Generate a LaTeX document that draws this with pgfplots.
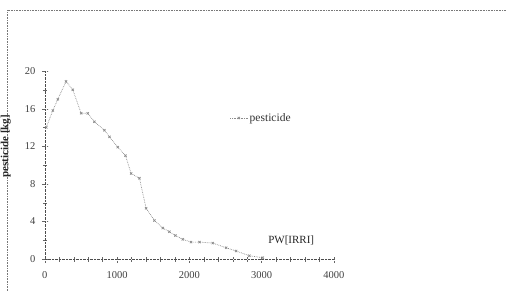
\documentclass[border=0pt]{standalone}
\usepackage{pgfplots}
\pgfplotsset{compat=1.18}
\usepackage{fontspec}
\setmainfont{Liberation Serif}
\definecolor{ln}{RGB}{140,140,140}
\definecolor{fr}{RGB}{120,120,120}
\begin{document}
\begin{tikzpicture}[x=1pt,y=1pt]
\useasboundingbox (0,0) rectangle (506,291);
\draw[fr, densely dotted, line width=0.6pt] (7,0) -- (7,281) -- (506,281);
\begin{axis}[
  at={(62,34)}, anchor=origin,
  scale only axis, width=289pt, height=188pt,
  xmin=0, xmax=4000, ymin=0, ymax=20,
  axis x line=bottom, axis y line=left,
  axis line style={densely dotted, black!70, -},
  xtick={0,1000,2000,3000,4000}, minor x tick num=4,
  ytick={0,4,8,12,16,20}, minor y tick num=1,
  tick align=center, tick style={black!60, densely dotted},
  major tick length=6pt, minor tick length=4pt,
  ticklabel style={font=\fontsize{10.5}{12}\selectfont, text=black!75},
  xticklabel style={yshift=-6pt},
  yticklabel style={xshift=-3pt},
  /pgf/number format/assume math mode=true,
  /pgf/number format/1000 sep={},
  ylabel={pesticide [kg]}, ylabel style={font=\fontsize{11}{12}\selectfont\bfseries, text=black!85, at={(axis description cs:0,0.6)}, anchor=center, yshift=39pt},
  legend style={at={(axis cs:2560,15.0)}, anchor=west, draw=none, fill=none, font=\fontsize{11.5}{13}\selectfont, text=black!80, inner sep=0pt},
  legend cell align=left,
  clip=false,
]
\addplot[ln, densely dotted, line width=0.7pt, mark=x, mark size=1.6pt, mark options={solid}] coordinates {
(20,14.0) (111,15.8) (180,17.0) (295,18.9) (388,18.0) (503,15.5) (595,15.5)
(687,14.6) (826,13.7) (895,13.0) (1010,11.9) (1117,11.0) (1195,9.1) (1310,8.6)
(1402,5.4) (1518,4.1) (1633,3.3) (1725,2.9) (1808,2.5) (1910,2.1) (2025,1.8)
(2140,1.8) (2325,1.7) (2510,1.2) (2648,0.85) (2833,0.35) (3017,0.14)
};
\addlegendentry{pesticide}
\node[font=\fontsize{11}{12}\selectfont, text=black!85] at (axis cs:3410,2.0) {PW[IRRI]};
\end{axis}
\end{tikzpicture}
\end{document}
